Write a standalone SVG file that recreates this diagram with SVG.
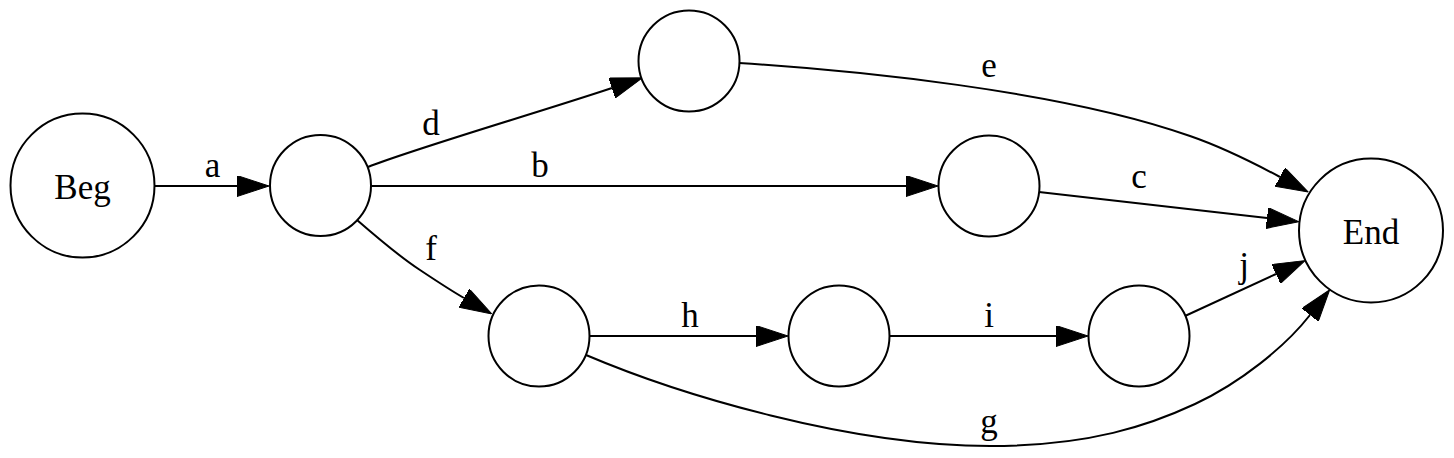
<svg xmlns="http://www.w3.org/2000/svg" width="1454" height="458" viewBox="0 0 1454 458">
<style>
  .node circle { fill: #ffffff; stroke: #000000; stroke-width: 2; }
  .node text, .lbl { font-family: "Liberation Serif", "Times New Roman", serif; font-size: 35px; fill: #000000; text-anchor: middle; }
  .edge { fill: none; stroke: #000000; stroke-width: 2; marker-end: url(#arrow); }
</style>
<defs>
  <marker id="arrow" viewBox="0 0 32 21" refX="0" refY="10.5" markerWidth="32" markerHeight="21" markerUnits="userSpaceOnUse" orient="auto">
    <path d="M0,0 L32,10.5 L0,21 Z" fill="#000000" stroke="#000000" stroke-width="1"/>
  </marker>
</defs>
<rect width="1454" height="458" fill="#ffffff"/>
<g id="connectors">
  <path class="edge" d="M154,186 L237,186"/>
  <path class="edge" d="M371,186 L906,186"/>
  <path class="edge" d="M368,167 C410,150 540,112 612,88"/>
  <path class="edge" d="M739,63 C850,70 1060,90 1190,136 C1222,147 1252,162 1280,177"/>
  <path class="edge" d="M1039,192 L1267,218"/>
  <path class="edge" d="M357,220 C380,240 400,257 420,270 C435,280 450,290 464,298"/>
  <path class="edge" d="M589,336 L756,336"/>
  <path class="edge" d="M889,336 L1056,336"/>
  <path class="edge" d="M1185,316 L1276,274"/>
  <path class="edge" d="M586,355 C680,395 850,446 990,446 C1090,446 1150,425 1195,404 C1240,383 1285,347 1310,315"/>
  <text class="lbl" x="212.5" y="177">a</text>
  <text class="lbl" x="540" y="177">b</text>
  <text class="lbl" x="431" y="135">d</text>
  <text class="lbl" x="989" y="77">e</text>
  <text class="lbl" x="1139" y="188">c</text>
  <text class="lbl" x="431" y="260">f</text>
  <text class="lbl" x="690" y="327">h</text>
  <text class="lbl" x="989" y="327">i</text>
  <text class="lbl" x="1244" y="277">j</text>
  <text class="lbl" x="989" y="433">g</text>
</g>
<g id="Beg" class="node"><circle cx="82.5" cy="185.5" r="72"/><text x="82.5" y="199">Beg</text></g>
<g id="n1" class="node"><circle cx="320.5" cy="185.5" r="50.5"/></g>
<g id="n_top" class="node"><circle cx="689" cy="61" r="50.5"/></g>
<g id="n_mid" class="node"><circle cx="989" cy="186" r="50.5"/></g>
<g id="n_f" class="node"><circle cx="539" cy="336" r="50.5"/></g>
<g id="n_h" class="node"><circle cx="839" cy="336" r="50.5"/></g>
<g id="n_i" class="node"><circle cx="1139" cy="336" r="50.5"/></g>
<g id="End" class="node"><circle cx="1371" cy="230.5" r="72"/><text x="1371" y="244">End</text></g>
</svg>
